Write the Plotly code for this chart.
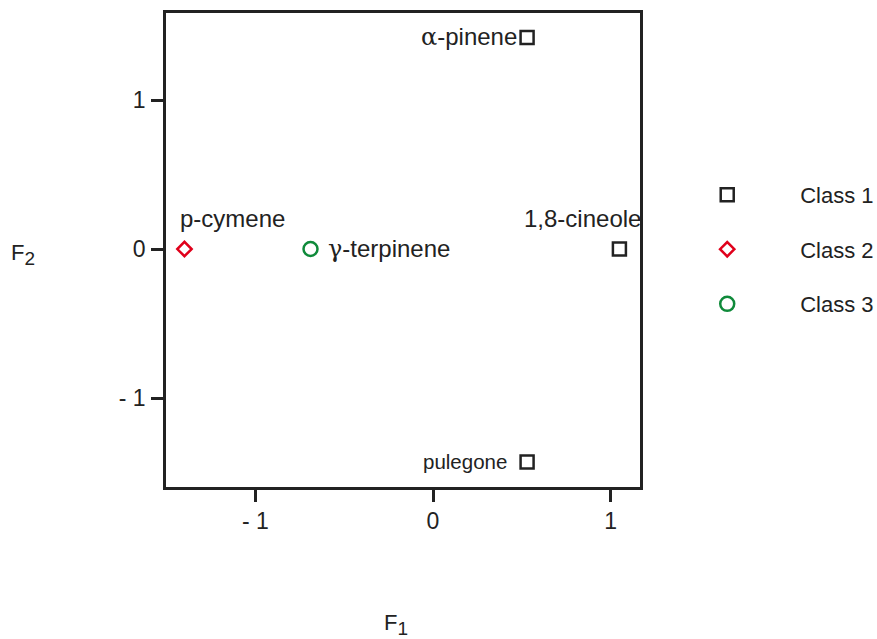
import plotly.graph_objects as go

# ---- data ----
compounds = ["α-pinene", "pulegone", "1,8-cineole", "p-cymene", "γ-terpinene"]
f1 = [0.53, 0.53, 1.05, -1.40, -0.69]
f2 = [1.42, -1.43, 0.0, 0.0, 0.0]
classes = [1, 1, 1, 2, 3]

class_names = ["Class 1", "Class 2", "Class 3"]
class_symbols = ["square-open", "diamond-open", "circle-open"]
class_colors = ["#222222", "#e0001b", "#0f8a3a"]
class_sizes = [13, 11, 14]

x_tickvals = [-1, 0, 1]
x_ticktext = ["- 1", "0", "1"]
y_tickvals = [-1, 0, 1]
y_ticktext = ["- 1", "0", "1"]

# label placement styles (per compound)
label_style = {
    "α-pinene": dict(xanchor="right", yanchor="middle", xshift=-8, yshift=0, size=24),
    "pulegone": dict(xanchor="right", yanchor="middle", xshift=-18, yshift=1, size=20.5),
    "1,8-cineole": dict(xanchor="center", yanchor="middle", xshift=-37, yshift=31, size=24),
    "p-cymene": dict(xanchor="left", yanchor="middle", xshift=-6, yshift=31, size=24),
    "γ-terpinene": dict(xanchor="left", yanchor="middle", xshift=15, yshift=0, size=24),
}

FONT = "Liberation Sans"
TXT = "#222222"

fig = go.Figure()
for ci in range(3):
    xs = [f1[i] for i in range(len(compounds)) if classes[i] == ci + 1]
    ys = [f2[i] for i in range(len(compounds)) if classes[i] == ci + 1]
    fig.add_trace(go.Scatter(
        x=xs, y=ys, mode="markers", name=class_names[ci],
        legendgroup=f"g{ci}",
        marker=dict(symbol=class_symbols[ci], size=class_sizes[ci],
                    color=class_colors[ci], line=dict(width=2.5, color=class_colors[ci])),
        cliponaxis=False,
    ))

def fmt(name):
    if name[0] in "αγ":
        return f"<span style='font-family:DejaVu Serif'>{name[0]}</span>{name[1:]}"
    return name

for i, name in enumerate(compounds):
    st = label_style[name]
    fig.add_annotation(
        x=f1[i], y=f2[i], xref="x", yref="y", text=fmt(name), showarrow=False,
        xanchor=st["xanchor"], yanchor=st["yanchor"], xshift=st["xshift"], yshift=st["yshift"],
        font=dict(family=FONT, size=st["size"], color=TXT),
    )

# axis titles
sub = "<sub><span style='font-size:19px'>{}</span></sub>"
fig.add_annotation(x=-0.302, y=0.49, xref="paper", yref="paper", text="F" + sub.format(2),
                   showarrow=False, xanchor="center", yanchor="middle",
                   font=dict(family=FONT, size=22, color=TXT))
fig.add_annotation(x=0.485, y=-0.29, xref="paper", yref="paper", text="F" + sub.format(1),
                   showarrow=False, xanchor="center", yanchor="middle",
                   font=dict(family=FONT, size=22, color=TXT))

axis_common = dict(showline=True, mirror=True, linewidth=2.5, linecolor=TXT,
                   ticks="outside", ticklen=12, tickwidth=2.5, tickcolor=TXT,
                   showgrid=False, zeroline=False, automargin=False,
                   tickfont=dict(family=FONT, size=23, color=TXT))

fig.update_layout(
    width=877, height=639,
    margin=dict(l=166, r=237, t=13, b=152, autoexpand=False),
    paper_bgcolor="white", plot_bgcolor="white",
    xaxis=dict(range=[-1.504, 1.166], tickvals=x_tickvals, ticktext=x_ticktext, **axis_common),
    yaxis=dict(range=[-1.597, 1.584], tickvals=y_tickvals, ticktext=y_ticktext,
               ticklabelstandoff=1, **axis_common),
    showlegend=True,
    legend=dict(x=1.030, xanchor="left", y=0.6607, yanchor="top",
                itemwidth=136, tracegroupgap=23, traceorder="grouped",
                font=dict(family=FONT, size=22, color=TXT), bgcolor="rgba(0,0,0,0)"),
)

fig.write_html("out.html")
